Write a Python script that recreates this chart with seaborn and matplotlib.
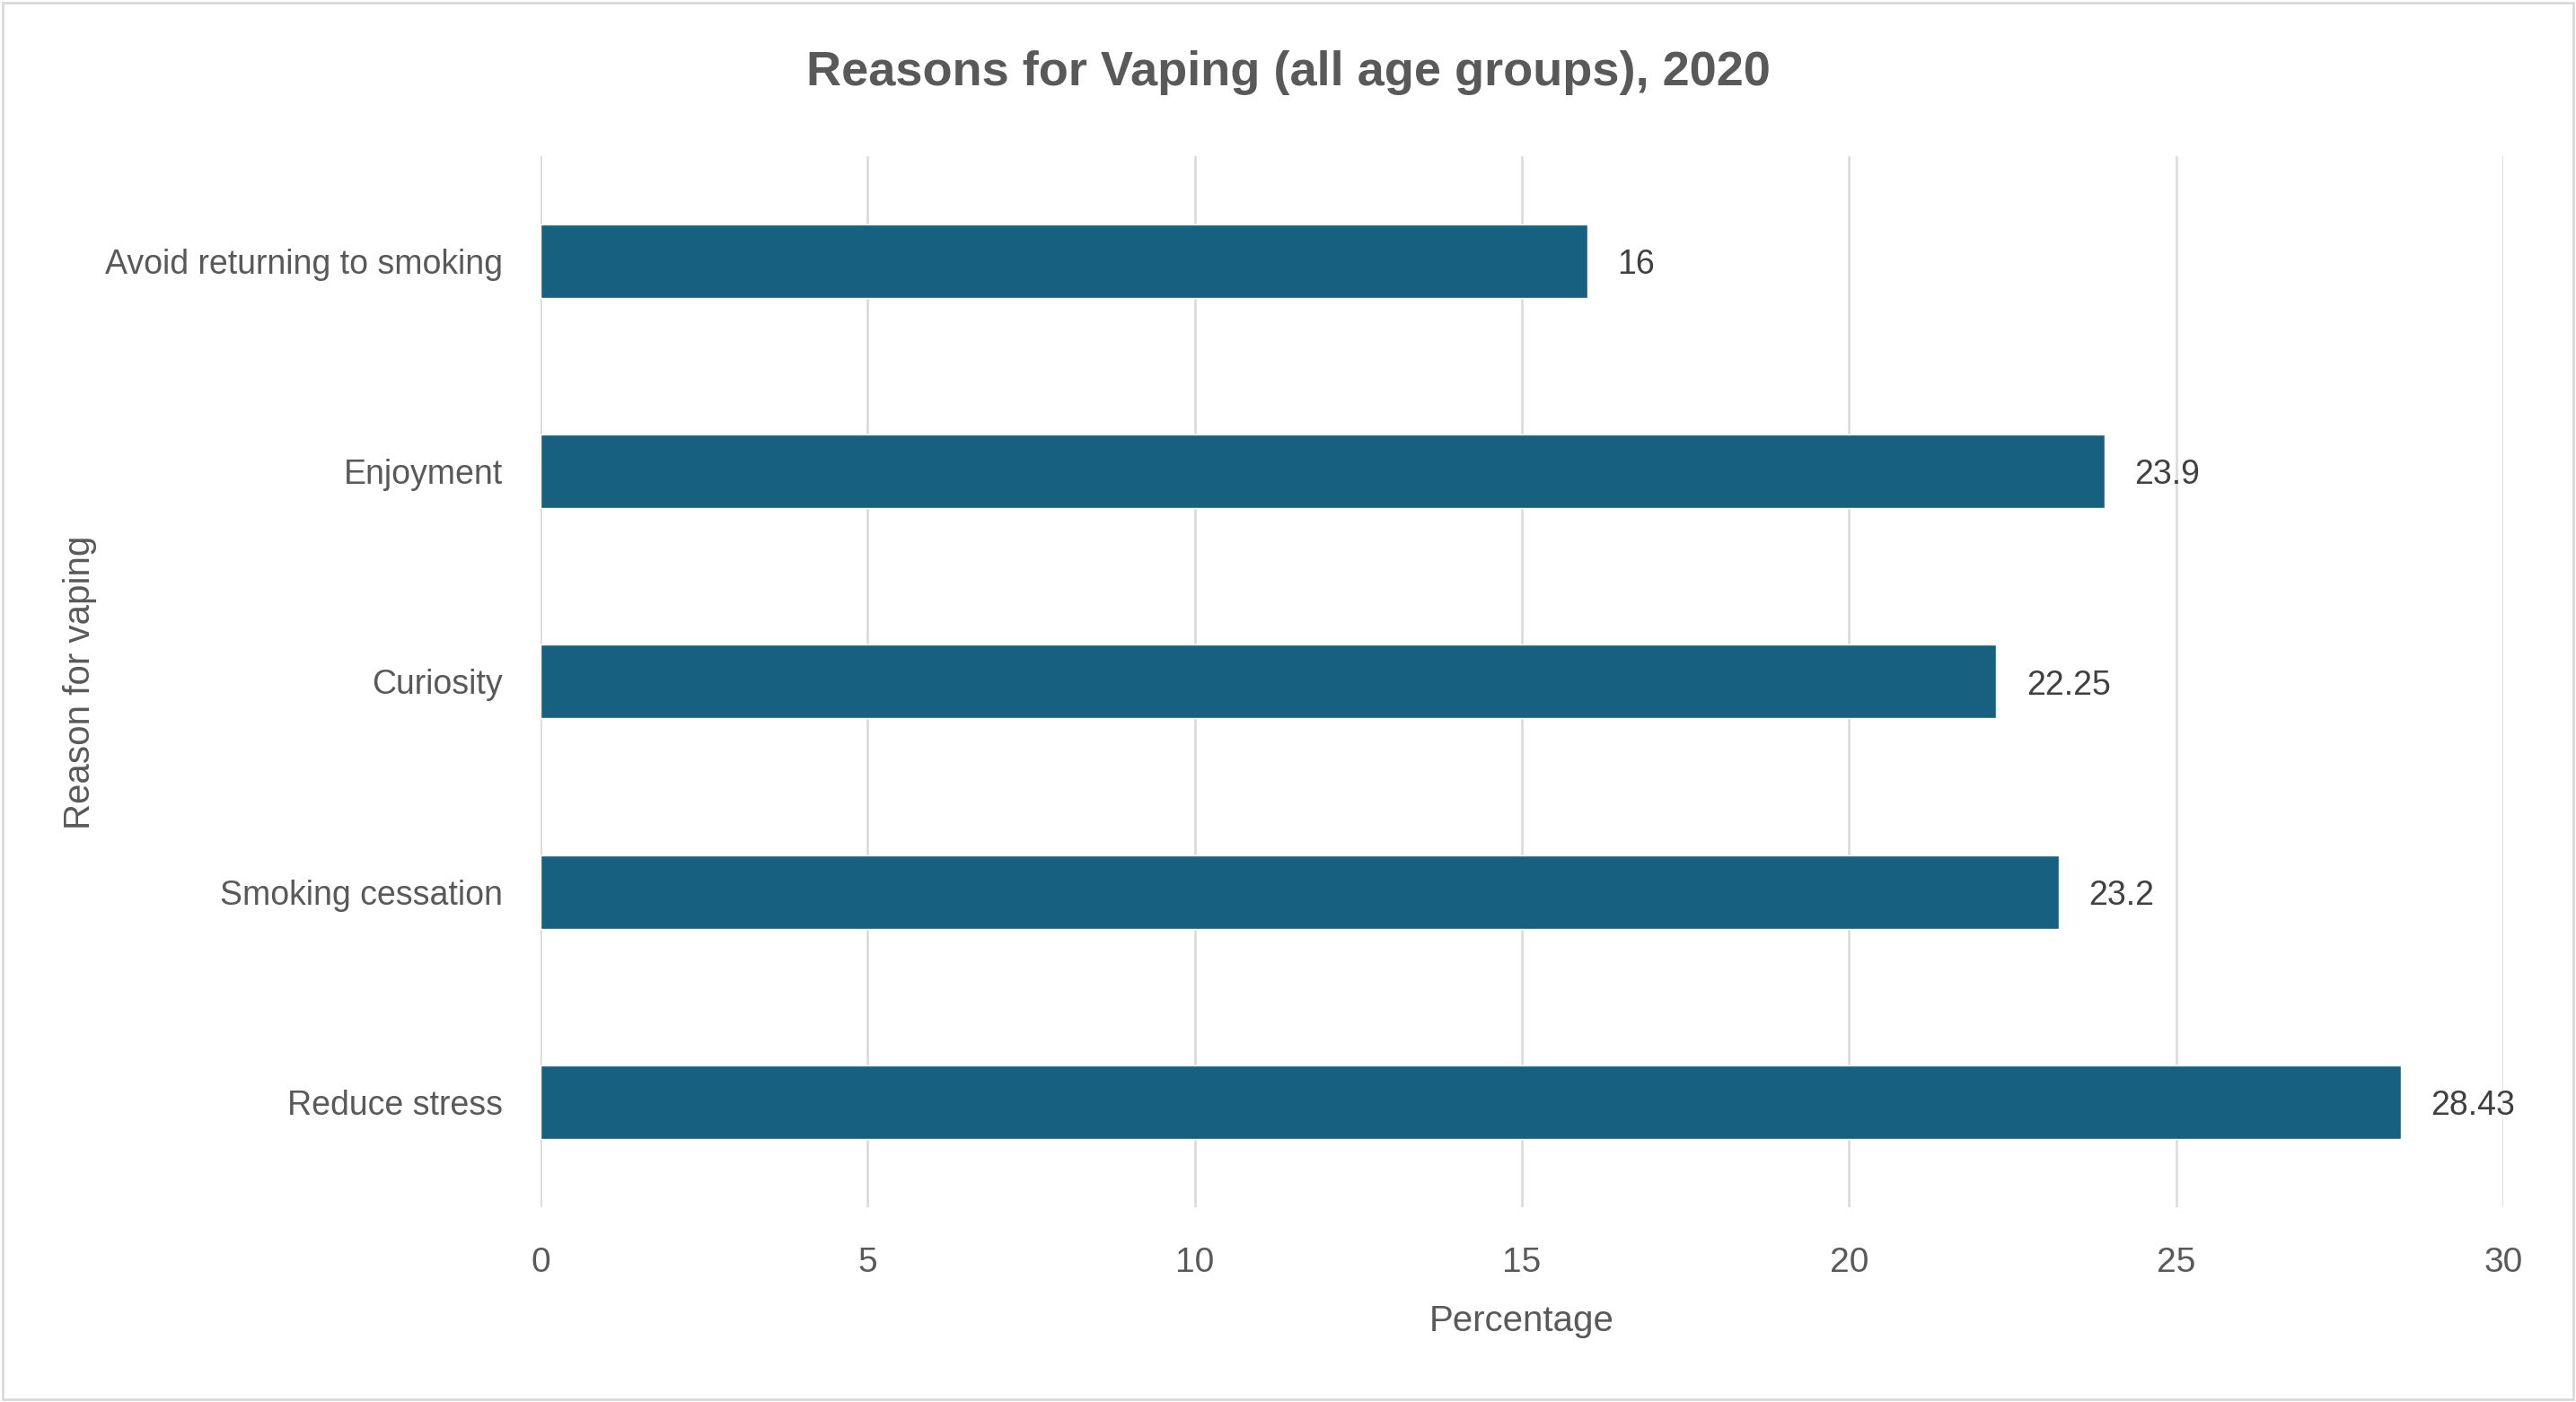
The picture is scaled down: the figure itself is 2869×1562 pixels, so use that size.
import pandas as pd
import matplotlib.pyplot as plt
import seaborn as sns
from matplotlib.patches import Rectangle

# Chart data
reasons = ['Avoid returning to smoking', 'Enjoyment', 'Curiosity',
           'Smoking cessation', 'Reduce stress']
percentages = [16, 23.9, 22.25, 23.2, 28.43]
value_labels = ['16', '23.9', '22.25', '23.2', '28.43']
x_ticks = [0, 5, 10, 15, 20, 25, 30]

df = pd.DataFrame({'Reason': reasons, 'Percentage': percentages})

sns.set_theme(style='white')
plt.rcParams['font.family'] = ['Liberation Sans', 'DejaVu Sans']

fig = plt.figure(figsize=(28.69, 15.62), dpi=100)
ax = fig.add_axes([0.2098, 0.139, 0.762, 0.7496])

sns.barplot(data=df, x='Percentage', y='Reason', orient='h',
            color='#17607F', width=0.35, saturation=1, ax=ax)

ax.set_xlim(0, 30)
ax.set_ylim(4.5, -0.5)
ax.set_xticks(x_ticks)
ax.xaxis.grid(True, color='#D9D9D9', linewidth=1.8)
ax.set_axisbelow(True)
for s in ax.spines.values():
    s.set_visible(False)

ax.tick_params(axis='y', labelsize=27, labelcolor='#595959', pad=30, length=0)
ax.tick_params(axis='x', labelsize=28, labelcolor='#595959', pad=32, length=0)

# value labels, nudged slightly down to sit on the bar centre
for bar, lab in zip(ax.patches, value_labels):
    ax.annotate(lab, (bar.get_width(), bar.get_y() + bar.get_height() / 2),
                xytext=(24, -3), textcoords='offset points',
                ha='left', va='center', fontsize=27, color='#404040')

ax.set_xlabel('Percentage', fontsize=29, color='#595959', labelpad=20)
ax.set_ylabel('')
fig.text(0.031, 0.513, 'Reason for vaping', rotation=90, fontsize=29,
         color='#595959', ha='center', va='center')

fig.suptitle('Reasons for Vaping (all age groups), 2020', fontsize=39,
             fontweight='bold', color='#595959', y=0.964)

fig.patches.append(Rectangle((0.001, 0.002), 0.998, 0.996, transform=fig.transFigure,
                             fill=False, edgecolor='#D9D9D9', linewidth=2))

fig.savefig('out.png', dpi=100, facecolor='white')
